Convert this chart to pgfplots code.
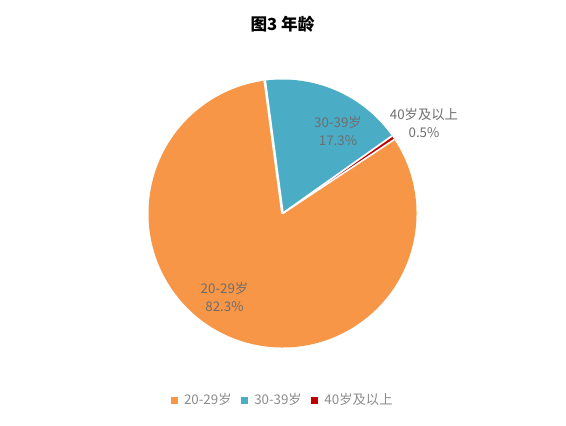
\documentclass[border=0pt]{standalone}
\usepackage{fontspec}
\setmainfont{Noto Sans CJK SC}
\usepackage{pgfplots}
\pgfplotsset{compat=1.18}
\definecolor{agea}{HTML}{F79646}
\definecolor{ageb}{HTML}{4BACC6}
\definecolor{agec}{HTML}{C00000}
\definecolor{labgray}{HTML}{6E6E6E}
\definecolor{leggray}{HTML}{8C8C8C}

\begin{document}
\begin{tikzpicture}
% 1 axis unit = 1 pixel of the 566x425 reference
\begin{axis}[
    scale only axis,
    width=424.5pt, height=318.75pt,
    xmin=0, xmax=566, ymin=0, ymax=425,
    hide axis, clip=false,
    legend columns=3,
    legend style={draw=none, fill=none, at={(0.5,0.058)}, anchor=center,
        font=\fontsize{10}{11}\selectfont, text=leggray,
        /tikz/every odd column/.append style={column sep=3pt},
        /tikz/every even column/.append style={column sep=5pt}},
    legend image code/.code={\fill[#1] (-2.3pt,-2.3pt) rectangle (2.3pt,2.3pt);},
]
\path (axis cs:0,0) rectangle (axis cs:566,425);

% shares in percent: 20-29 = 82.3, 30-39 = 17.3, 40+ = 0.5
\coordinate (c) at (axis cs:282.5,211.5);
\fill[ageb] (c) -- ++(97.6:100.5pt) arc[start angle=97.6, delta angle={-17.3*3.6}, radius=100.5pt] -- cycle;
\fill[agec] (c) -- ++({97.6-17.3*3.6}:100.5pt) arc[start angle={97.6-17.3*3.6}, delta angle={-0.5*3.6}, radius=100.5pt] -- cycle;
\fill[agea] (c) -- ++({97.6-17.8*3.6}:100.5pt) arc[start angle={97.6-17.8*3.6}, delta angle={-(100-17.8)*3.6}, radius=100.5pt] -- cycle;
\draw[white, line width=2pt] (c) -- ++(97.6:100.5pt);
\draw[white, line width=1.3pt] (c) -- ++({97.6-17.3*3.6}:100.5pt);
\draw[white, line width=1.2pt] (c) -- ++({97.6-17.8*3.6}:100.5pt);

\addlegendimage{agea}\addlegendentry{20-29岁}
\addlegendimage{ageb}\addlegendentry{30-39岁}
\addlegendimage{agec}\addlegendentry{40岁及以上}

\begin{scope}[every node/.style={align=center, text=labgray,
    font=\fontsize{10}{13.5}\selectfont}]
\node at (axis cs:338,294) {30-39岁\\17.3\%};
\node at (axis cs:224.5,128) {20-29岁\\82.3\%};
\node at (axis cs:424,302) {40岁及以上\\0.5\%};
\end{scope}
\node[font=\fontsize{12.5}{14}\selectfont\bfseries] at (axis cs:282.5,401) {图3 年龄};
\end{axis}
\end{tikzpicture}
\end{document}
